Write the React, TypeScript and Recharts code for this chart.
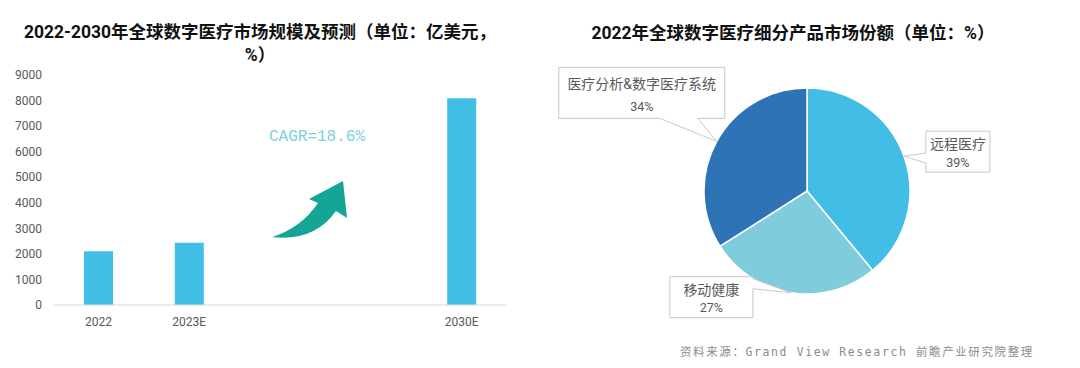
import { BarChart, Bar, XAxis, YAxis, PieChart, Pie, Cell } from 'recharts';

// market size, 100 million USD
const years = ['2022', '2023E', '', ' ', '2030E'];
const marketSize = [2100, 2440, null, null, 8090];
const sizeTicks = [0, 1000, 2000, 3000, 4000, 5000, 6000, 7000, 8000, 9000];

// 2022 segment shares, %
const segments = ['远程医疗', '移动健康', '医疗分析&数字医疗系统'];
const shares = [39, 27, 34];
const segmentColors = ['#42BDE6', '#7FCCDC', '#2E73B5'];

const cagrText = 'CAGR=18.6%';

const barData = years.map((y, i) => ({ year: y, size: marketSize[i] }));
const pieData = segments.map((s, i) => ({ name: s, value: shares[i] }));

// callout box placement relative to the point on the arc
const callouts = [
    { dx: 22, dy: -25, w: 64, h: 41, side: 'left', n1: -3, n2: 7 },
    { dx: -121, dy: -16, w: 83, h: 41, side: 'right', n1: -14, n2: -4 },
    { dx: -158, dy: -74, w: 166, h: 51, side: 'bottom', n1: -57, n2: -19 },
];

const RADIAN = Math.PI / 180;

const CalloutLabel = (props: any) => {
    const { cx, cy, midAngle, outerRadius, index, name, value } = props;
    const ax = cx + outerRadius * Math.cos(-midAngle * RADIAN);
    const ay = cy + outerRadius * Math.sin(-midAngle * RADIAN);
    const c = callouts[index];
    const x = ax + c.dx;
    const y = ay + c.dy;
    let d = '';
    if (c.side === 'left') {
        d = `M${x},${y} H${x + c.w} V${y + c.h} H${x} V${ay + c.n2} L${ax},${ay} L${x},${ay + c.n1} Z`;
    } else if (c.side === 'right') {
        d = `M${x},${y} H${x + c.w} V${ay + c.n1} L${ax},${ay} L${x + c.w},${ay + c.n2} V${y + c.h} H${x} Z`;
    } else {
        d = `M${x},${y} H${x + c.w} V${y + c.h} H${ax + c.n2} L${ax},${ay} L${ax + c.n1},${y + c.h} H${x} Z`;
    }
    const tx = x + c.w / 2;
    return (
        <g>
            <path d={d} fill="#fff" stroke="#c8c8c8" strokeWidth={1} />
            <text x={tx} y={y + c.h * 0.32} textAnchor="middle" dominantBaseline="central" fontSize={14} fill="#595959">
                {name}
            </text>
            <text x={tx} y={y + c.h * 0.76} textAnchor="middle" dominantBaseline="central" fontSize={12.5} fill="#595959">
                {value}%
            </text>
        </g>
    );
};

const titleStyle: any = {
    position: 'absolute',
    fontSize: 17.5,
    fontWeight: 700,
    color: '#111',
    textAlign: 'center',
    lineHeight: '23px',
    whiteSpace: 'nowrap',
};

const App = () => {
    return (
        <div
            style={{
                position: 'absolute',
                left: 0,
                top: 0,
                width: 1080,
                height: 368,
                background: '#fff',
                overflow: 'hidden',
                fontFamily: 'Roboto, "Noto Sans CJK SC", sans-serif',
            }}
        >
            <div style={{ ...titleStyle, left: 0, width: 520, top: 21 }}>
                2022-2030年全球数字医疗市场规模及预测（单位：亿美元，
                <br />
                %）
            </div>
            <div style={{ ...titleStyle, left: 540, width: 506, top: 22 }}>
                2022年全球数字医疗细分产品市场份额（单位：%）
            </div>

            <div style={{ position: 'absolute', left: 0, top: 0 }}>
                <BarChart width={540} height={368} data={barData} margin={{ top: 75, right: 33, bottom: 33, left: 0 }}>
                    <XAxis
                        dataKey="year"
                        height={30}
                        tickSize={0}
                        tickMargin={12}
                        tickLine={false}
                        axisLine={{ stroke: '#d9d9d9' }}
                        tick={{ fontSize: 12, fill: '#595959' }}
                        interval={0}
                    />
                    <YAxis
                        width={53}
                        domain={[0, 9000]}
                        ticks={sizeTicks}
                        interval={0}
                        tickSize={0}
                        tickMargin={11}
                        tickLine={false}
                        axisLine={false}
                        tick={{ fontSize: 12, fill: '#595959' }}
                    />
                    <Bar dataKey="size" fill="#42BFE6" barSize={29} isAnimationActive={false} />
                </BarChart>
            </div>

            <svg width={540} height={368} style={{ position: 'absolute', left: 0, top: 0, pointerEvents: 'none' }}>
                <text x={269} y={141} fontFamily='"Liberation Mono", monospace' fontSize={16} fill="#80CFE0">
                    {cagrText}
                </text>
                <path
                    d="M272,237 Q301,228 318,203 L309,199 L343,181 L347,218 L336,211 Q314,242 272,237 Z"
                    fill="#15A597"
                />
            </svg>

            <div style={{ position: 'absolute', left: 540, top: 0 }}>
                <PieChart width={540} height={368} margin={{ top: 0, right: 0, bottom: 0, left: 0 }}>
                    <Pie
                        data={pieData}
                        dataKey="value"
                        nameKey="name"
                        cx={267}
                        cy={191}
                        outerRadius={103}
                        startAngle={90}
                        endAngle={-270}
                        stroke="#fff"
                        strokeWidth={1.5}
                        label={CalloutLabel}
                        labelLine={false}
                        isAnimationActive={false}
                    >
                        {pieData.map((d, i) => (
                            <Cell key={d.name} fill={segmentColors[i]} />
                        ))}
                    </Pie>
                </PieChart>
            </div>

            <div
                style={{
                    position: 'absolute',
                    left: 680,
                    top: 343,
                    fontSize: 11.5,
                    letterSpacing: 1.6,
                    color: '#8c8c8c',
                    whiteSpace: 'nowrap',
                    fontFamily: '"DejaVu Sans Mono", "Noto Sans CJK SC", monospace',
                }}
            >
                资料来源：Grand View Research 前瞻产业研究院整理
            </div>
        </div>
    );
};

export default App;
